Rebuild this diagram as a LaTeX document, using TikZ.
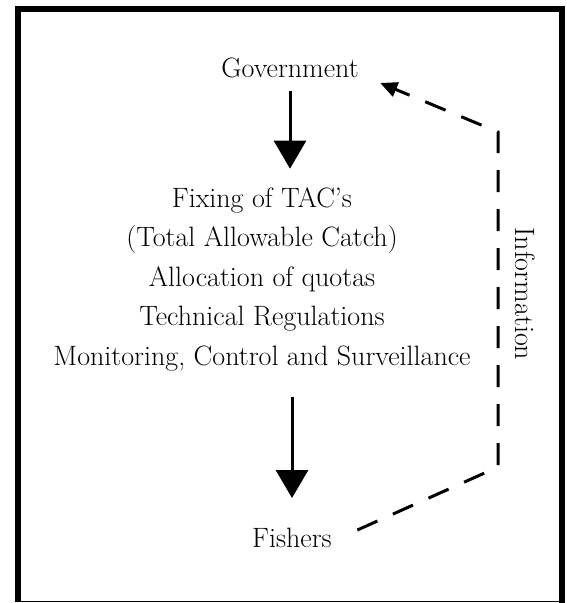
\documentclass[tikz,border=0pt]{standalone}
\usepackage{tikz}
\usetikzlibrary{arrows.meta, positioning}

\begin{document}
\begin{tikzpicture}
        [ x=1pt, y=1pt
        , node distance=39.5pt
        , lbl/.style={font=\fontsize{28pt}{40pt}\selectfont, anchor=base}
        , item/.style={lbl}
        , flow/.style={-{Triangle[length=28pt,width=32pt]}, line width=3pt}
        , info/.style={-{Triangle[length=17pt,width=15pt]}, line width=3pt,
                       dash pattern=on 22pt off 17pt}
        , frm/.style={line width=6pt, line join=miter}
        ]
        \useasboundingbox (0,0) rectangle (567,-603);

        % frame: heavy on three sides, thin at the bottom
        \draw[frm] (18,-602) -- (18,-9) -- (562,-9) -- (562,-603);
        \draw[line width=1.5pt] (18,-601.5) -- (562,-601.5);

        \node (gov) [lbl] at (290,-77) {Government};

        \node (fix) [item] at (262,-207) {Fixing of TAC's};
        \node (tac) [item, below=of fix.base, anchor=base] {(Total Allowable Catch)};
        \node (quota) [item, below=of tac.base, anchor=base] {Allocation of quotas};
        \node (tech) [item, below=of quota.base, anchor=base] {Technical Regulations};
        \node (mcs) [item, below=of tech.base, anchor=base] {Monitoring, Control and Surveillance};

        \node (fish) [lbl] at (292,-547) {Fishers};

        \node (inf) [lbl, rotate=-90, anchor=center] at (525,-294) {Information};

        \draw[flow, shorten <=10pt, shorten >=15pt] (gov.south) -- (gov.south |- fix.north);
        \draw[flow, shorten <=23pt, shorten >=26pt] (fish.north |- mcs.south) -- (fish.north);

        \coordinate (infA) at (498,-467);
        \coordinate (infB) at (498,-132);
        \draw[info] ([shift={(22pt,-6pt)}]fish.north east) -- (infA) -- (infB)
                -- ([shift={(18pt,-2pt)}]gov.south east);

\end{tikzpicture}
\end{document}
